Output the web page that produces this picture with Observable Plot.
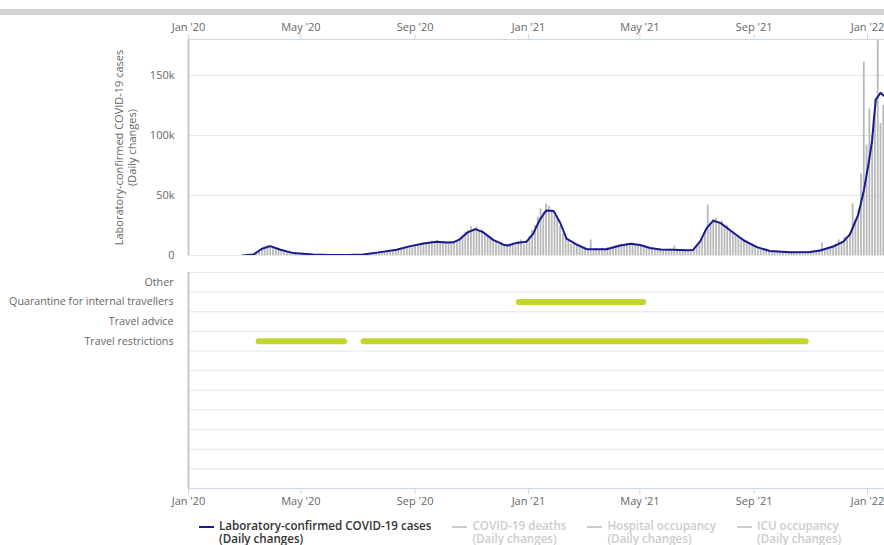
<!DOCTYPE html>
<html>
<head>
<meta charset="utf-8">
<script src="https://cdn.jsdelivr.net/npm/d3@7"></script>
<script src="https://cdn.jsdelivr.net/npm/@observablehq/plot@0.6"></script>
<style>
  body { margin: 0; background: #fff; }
  #wrap { position: relative; width: 884px; height: 545px; overflow: hidden; background: #fff; font-family: "Open Sans", sans-serif; }
  #topbar { position: absolute; left: 0; top: 9px; width: 884px; height: 6px; background: #d2d2d2; }
  #topPanel { position: absolute; left: 0; top: 0; }
  #bottomPanel { position: absolute; left: 0; top: 260px; }
  #legendBox { position: absolute; left: 199px; top: 520px; display: flex; gap: 21px; font-size: 11.6px; font-weight: 600; white-space: nowrap; }
  .item { display: flex; align-items: flex-start; }
  .sym { width: 15px; height: 2px; margin-top: 6px; margin-right: 5px; }
  .ln { line-height: 12.5px; height: 12.5px; }
</style>
</head>
<body>
<div id="wrap">
  <div id="topbar"></div>
  <div id="topPanel"></div>
  <div id="bottomPanel"></div>
  <div id="legendBox"></div>
</div>
<script>
// ---------- data ----------
const xStart = "2020-01-01";
const xEnd = "2022-01-19T07:00";
const yMax = 180000;
const yTickValues = [0, 50000, 100000, 150000];

// daily reported cases, sampled every 3 days from barStart
const barStart = "2020-02-28";
const barStepDays = 3;
const barValues = [
  0, 50, 200, 400, 900, 2000, 3200, 5200, 7000, 8500,
  8000, 7500, 6000, 5200, 4200, 3500, 3000, 2600, 2100, 1700,
  1500, 1300, 1100, 1000, 900, 900, 800, 700, 700, 600,
  500, 500, 450, 500, 400, 450, 400, 400, 350, 450,
  500, 550, 650, 800, 1000, 1300, 1600, 2000, 2400, 2800,
  3000, 3300, 3600, 4000, 4500, 5000, 5600, 6300, 6800, 7200,
  8000, 8500, 9000, 9200, 9500, 10500, 10000, 11000, 12000, 11500,
  12500, 11000, 11500, 10500, 11000, 10000, 11500, 12500, 14000, 17000,
  19500, 21000, 24000, 22000, 23500, 20000, 21500, 17000, 16500, 15000,
  13500, 11500, 9000, 10500, 8500, 7500, 9500, 10500, 9000, 12000,
  13000, 9000, 12500, 16000, 21000, 25000, 32000, 39000, 36000, 43000,
  41000, 38000, 33000, 30000, 24000, 18000, 15000, 12500, 9500, 11000,
  8500, 7000, 6000, 5500, 4500, 13000, 4500, 5500, 5000, 6000,
  5500, 6500, 6000, 7500, 8500, 9000, 9500, 8500, 10000, 9500,
  10500, 8500, 9000, 8000, 7500, 6500, 6800, 5500, 6000, 5000,
  5500, 4500, 5000, 4500, 5200, 8000, 4800, 4000, 4500, 3800,
  4200, 4500, 5000, 8000, 11000, 15000, 21000, 42000, 27000, 30000,
  31000, 28000, 29000, 24000, 25000, 21000, 20000, 17500, 16000, 14500,
  13000, 11500, 10000, 9000, 7500, 7000, 6000, 5000, 4500, 4200,
  3500, 3300, 3000, 3000, 2800, 2700, 2900, 2600, 2800, 2500,
  2700, 2600, 2900, 3000, 3200, 3600, 3800, 4500, 10500, 5000,
  6000, 7000, 8000, 9000, 13000, 11000, 15000, 13000, 18000, 43000,
  30000, 38000, 68000, 161000, 92000, 122000, 100000, 130000, 179000, 110000,
  125000
];

// 7-day average line
const lineDates = [
  "2020-02-28","2020-03-11","2020-03-20","2020-03-29","2020-04-09","2020-04-23","2020-05-14","2020-06-01",
  "2020-06-20","2020-07-07","2020-07-22","2020-08-12","2020-08-27","2020-09-10","2020-09-24","2020-10-05",
  "2020-10-12","2020-10-19","2020-10-27","2020-11-05","2020-11-13","2020-11-24","2020-12-05","2020-12-10",
  "2020-12-19","2020-12-30","2021-01-06","2021-01-13","2021-01-20","2021-01-28","2021-02-04","2021-02-11",
  "2021-02-22","2021-03-05","2021-03-19","2021-03-26","2021-04-10","2021-04-21","2021-05-01","2021-05-12",
  "2021-05-23","2021-06-06","2021-06-20","2021-06-27","2021-07-05","2021-07-12","2021-07-19","2021-07-27",
  "2021-08-06","2021-08-21","2021-09-04","2021-09-18","2021-10-10","2021-10-31","2021-11-11","2021-11-25",
  "2021-12-06","2021-12-13","2021-12-22","2021-12-28","2022-01-02","2022-01-06","2022-01-08","2022-01-10",
  "2022-01-15","2022-01-19"
];
const lineValues = [
  0, 800, 5600, 7800, 4800, 2000, 900, 500,
  400, 800, 2400, 4800, 7800, 10000, 11500, 10800,
  11000, 13500, 19000, 22000, 19500, 13000, 9000, 8300,
  10500, 11500, 18000, 29500, 37500, 37000, 27500, 14000,
  9000, 5200, 5300, 5200, 8300, 9700, 8700, 6200,
  5000, 4700, 4300, 4500, 12000, 23000, 29000, 27000,
  21000, 12500, 7000, 3800, 2800, 2900, 4200, 7500,
  11500, 17500, 34000, 54000, 76000, 96000, 115000, 130000,
  135500, 133000
];

// measures timeline
const categories = ["Other", "Quarantine for internal travellers", "Travel advice", "Travel restrictions"];
const emptyRows = 7;
const measureCategory = ["Travel restrictions", "Travel restrictions", "Quarantine for internal travellers"];
const measureStart = ["2020-03-17", "2020-07-08", "2020-12-22"];
const measureEnd = ["2020-06-17", "2021-10-27", "2021-05-05"];

// legend
const legendNames = ["Laboratory-confirmed COVID-19 cases", "COVID-19 deaths", "Hospital occupancy", "ICU occupancy"];
const legendSub = "(Daily changes)";
const legendActive = [true, false, false, false];
const yTitle = "Laboratory-confirmed COVID-19 cases\n(Daily changes)";

// ---------- build ----------
const parseDate = s => new Date(s + (s.length === 10 ? "T00:00Z" : "Z"));
const xDomain = [parseDate(xStart), parseDate(xEnd)];
const barData = barValues.map((v, i) => ({date: d3.utcDay.offset(parseDate(barStart), i * barStepDays), value: v}));
const lineData = lineDates.map((d, i) => ({date: parseDate(d), value: lineValues[i]}));
const rows = categories.concat(Array(emptyRows).fill(""));
const measures = measureCategory.map((c, i) => ({row: rows.indexOf(c) + 0.5, start: parseDate(measureStart[i]), end: parseDate(measureEnd[i])}));
const xTicks = d3.utcMonth.every(4).range(xDomain[0], xDomain[1]);
const fmtDate = d3.utcFormat("%b '%y");
const fmtK = v => v === 0 ? "0" : (v / 1000) + "k";

const LINE = "#1a1a90", BAR = "#b8b8b8", GRID = "#e6e6e6", AXIS = "#ccd6eb", GREEN = "#c4d62e";
const baseStyle = {fontFamily: "'Open Sans', sans-serif", fontSize: "11px", color: "#666", background: "transparent", overflow: "visible"};

const topChart = Plot.plot({
  width: 884, height: 262,
  marginTop: 39, marginBottom: 7, marginLeft: 188, marginRight: 0,
  style: baseStyle,
  x: {type: "utc", domain: xDomain},
  y: {domain: [0, yMax]},
  marks: [
    Plot.gridY(yTickValues, {stroke: GRID, strokeOpacity: 1}),
    Plot.ruleX(barData, {x: "date", y: "value", stroke: BAR, strokeWidth: 1.8, clip: true}),
    Plot.line(lineData, {x: "date", y: "value", stroke: LINE, strokeWidth: 2, clip: true}),
    Plot.ruleY([yMax], {stroke: AXIS}),
    Plot.ruleX([xDomain[0]], {stroke: "#c8c8c8", strokeWidth: 2}),
    Plot.axisX(xTicks, {anchor: "top", tickSize: 6, tickPadding: 3, stroke: AXIS, fill: "#666", tickFormat: fmtDate, label: null}),
    Plot.axisY(yTickValues, {tickSize: 0, tickPadding: 14, tickFormat: fmtK, fill: "#666", label: null}),
    Plot.text([yTitle], {frameAnchor: "left", dx: -63, rotate: -90, textAnchor: "middle", lineAnchor: "middle", fill: "#666", fontSize: 11, lineHeight: 1.15})
  ]
});
document.getElementById("topPanel").appendChild(topChart);

const bottomChart = Plot.plot({
  width: 884, height: 252,
  marginTop: 12, marginBottom: 24, marginLeft: 188, marginRight: 0,
  style: baseStyle,
  x: {type: "utc", domain: xDomain},
  y: {domain: [rows.length, 0]},
  marks: [
    Plot.ruleY(d3.range(rows.length), {stroke: GRID}),
    Plot.ruleY([rows.length], {stroke: AXIS}),
    Plot.ruleX([xDomain[0]], {stroke: "#c8c8c8", strokeWidth: 2}),
    Plot.ruleY(measures, {y: "row", x1: "start", x2: "end", stroke: GREEN, strokeWidth: 6, strokeLinecap: "round"}),
    Plot.axisX(xTicks, {anchor: "bottom", tickSize: 6, tickPadding: 3, stroke: AXIS, fill: "#666", tickFormat: fmtDate, label: null}),
    Plot.axisY(rows.map((_, i) => i + 0.5), {tickSize: 0, tickPadding: 15, tickFormat: v => rows[Math.floor(v)], fill: "#666", fontSize: 10.7, label: null})
  ]
});
document.getElementById("bottomPanel").appendChild(bottomChart);

const legendEl = document.getElementById("legendBox");
legendNames.forEach((name, i) => {
  const item = document.createElement("div");
  item.className = "item";
  const sym = document.createElement("div");
  sym.className = "sym";
  sym.style.background = legendActive[i] ? LINE : "#cccccc";
  const txt = document.createElement("div");
  txt.style.color = legendActive[i] ? "#333" : "#cccccc";
  [name, legendSub].forEach(t => {
    const l = document.createElement("div");
    l.className = "ln";
    l.textContent = t;
    txt.appendChild(l);
  });
  item.appendChild(sym);
  item.appendChild(txt);
  legendEl.appendChild(item);
});
</script>
</body>
</html>
